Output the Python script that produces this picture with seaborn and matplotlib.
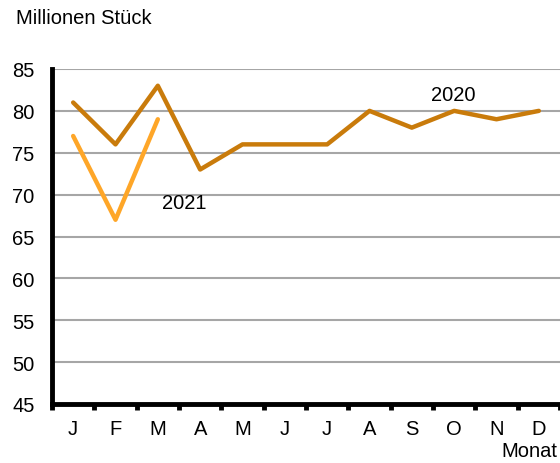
import numpy as np
import pandas as pd
import seaborn as sns
import matplotlib.pyplot as plt

# Data
months = ["J", "F", "M", "A", "M", "J", "J", "A", "S", "O", "N", "D"]
values_2020 = [81, 76, 83, 73, 76, 76, 76, 80, 78, 80, 79, 80]
values_2021 = [77, 67, 79]

df = pd.concat([
    pd.DataFrame({"idx": range(len(values_2020)), "value": values_2020, "year": "2020"}),
    pd.DataFrame({"idx": range(len(values_2021)), "value": values_2021, "year": "2021"}),
])

sns.set_style("white")
plt.rcParams["font.family"] = ["Liberation Sans", "DejaVu Sans"]
plt.rcParams["text.color"] = "black"
plt.rcParams["xtick.color"] = "black"
plt.rcParams["ytick.color"] = "black"

fs = 14.5

fig = plt.figure(figsize=(5.6, 4.64), dpi=100)
ax = fig.add_axes([52 / 560, 59 / 464, (560 - 52) / 560, (405 - 70) / 464])

sns.lineplot(data=df, x="idx", y="value", hue="year",
             palette={"2020": "#c97b0b", "2021": "#fea628"},
             linewidth=3.2, legend=False, ax=ax)

# category slots: one per month, boundaries half-way between points
ax.set_xlim(-0.5, 11.45)
ax.set_ylim(45, 85)
ax.set_yticks(range(45, 90, 5))

ax.set_xticks(range(len(months)))
ax.set_xticklabels(months)
ax.set_xticks(np.arange(len(months) + 1) - 0.5, minor=True)
ax.tick_params(axis="x", which="major", bottom=False, length=0, pad=11, labelsize=fs)
ax.tick_params(axis="x", which="minor", bottom=True, length=4, width=3.5,
               color="black", direction="out")
ax.tick_params(axis="y", left=False, length=0, pad=12.5, labelsize=fs)

ax.yaxis.grid(True, color="#a6a6a6", linewidth=1.5)
ax.set_axisbelow(True)
for side in ["top", "right"]:
    ax.spines[side].set_visible(False)
for side in ["left", "bottom"]:
    ax.spines[side].set_color("black")
    ax.spines[side].set_linewidth(3.5)

ax.set_xlabel("")
ax.set_ylabel("")

ax.text(2.1, 69.0, "2021", fontsize=fs, ha="left", va="center")
ax.text(8.45, 81.9, "2020", fontsize=fs, ha="left", va="center")
fig.text(16 / 560, 1 - 19 / 464, "Millionen Stück", fontsize=fs, ha="left", va="center")
fig.text(557 / 560, 1 - 452 / 464, "Monat", fontsize=fs, ha="right", va="center")

fig.savefig("out.png", dpi=100)
